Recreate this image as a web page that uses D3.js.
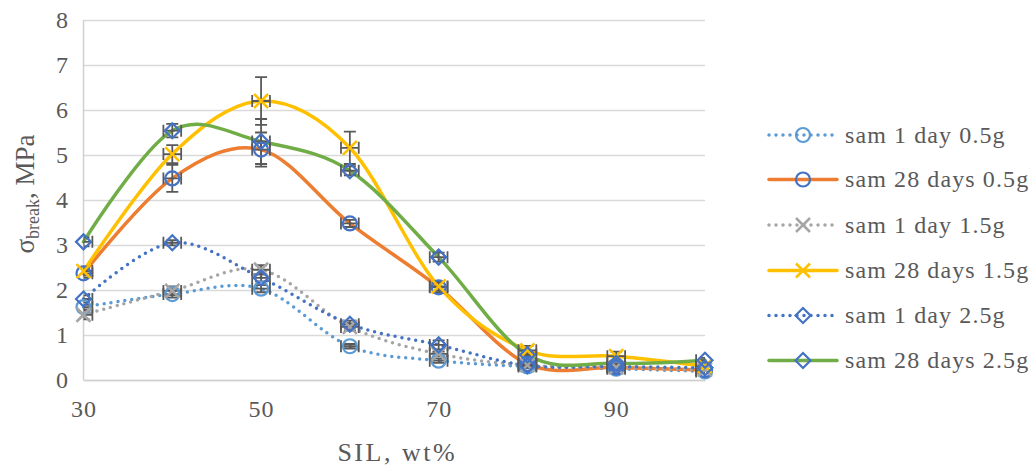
<!DOCTYPE html>
<html>
<head>
<meta charset="utf-8">
<script src="https://cdnjs.cloudflare.com/ajax/libs/d3/7.8.5/d3.min.js"></script>
<style>
  body { margin: 0; background: #fff; }
  text { font-family: "Liberation Serif", "Times New Roman", serif; fill: #595959; }
</style>
</head>
<body>
<div class="chart"></div>
<script>
// tensile strength vs SIL content, six sample series with error bars

var sil = [30, 40, 50, 60, 70, 80, 90, 100];
var xTicks = [30, 50, 70, 90];
var yTicks = [0, 1, 2, 3, 4, 5, 6, 7, 8];

var seriesNames = ["sam 1 day 0.5g", "sam 28 days 0.5g", "sam 1 day 1.5g",
                   "sam 28 days 1.5g", "sam 1 day 2.5g", "sam 28 days 2.5g"];

var day1_05  = [1.62, 1.91, 2.03, 0.75, 0.43, 0.30, 0.25, 0.19];
var day28_05 = [2.37, 4.48, 5.12, 3.48, 2.06, 0.36, 0.28, 0.22];
var day1_15  = [1.45, 1.98, 2.45, 1.18, 0.58, 0.33, 0.28, 0.23];
var day28_15 = [2.42, 5.02, 6.20, 5.16, 2.08, 0.66, 0.53, 0.31];
var day1_25  = [1.80, 3.05, 2.27, 1.24, 0.78, 0.32, 0.30, 0.27];
var day28_25 = [3.07, 5.54, 5.30, 4.65, 2.73, 0.56, 0.37, 0.44];

// y error (+/-) for each series, x error is 1 wt% everywhere
var err1_05  = [0.05, 0.08, 0.08, 0.05, 0.05, 0.03, 0.03, 0.03];
var err28_05 = [0.10, 0.30, 0.38, 0.08, 0.12, 0.05, 0.05, 0.05];
var err1_15  = [0.10, 0.10, 0.10, 0.08, 0.05, 0.03, 0.03, 0.03];
var err28_15 = [0.10, 0.20, 0.53, 0.36, 0.10, 0.10, 0.10, 0.05];
var err1_25  = [0.08, 0.06, 0.08, 0.08, 0.10, 0.05, 0.03, 0.03];
var err28_25 = [0.10, 0.15, 0.50, 0.10, 0.10, 0.05, 0.05, 0.05];
var xErr = 1;

var svgWidth = 1034;
var svgHeight = 472;
var margin = { top: 20, right: 329, bottom: 92, left: 83.5 };
var width = svgWidth - margin.left - margin.right;
var height = svgHeight - margin.top - margin.bottom;

// styles per series (line colour, marker colour, marker shape, dotted or not)
var styles = [
  { line: "#5B9BD5", mark: "#5B9BD5", shape: "circle",  dotted: true },
  { line: "#ED7D31", mark: "#4472C4", shape: "circle",  dotted: false },
  { line: "#A5A5A5", mark: "#A5A5A5", shape: "x",       dotted: true },
  { line: "#FFC000", mark: "#FFC000", shape: "x",       dotted: false },
  { line: "#4472C4", mark: "#4472C4", shape: "diamond", dotted: true },
  { line: "#70AD47", mark: "#4472C4", shape: "diamond", dotted: false }
];

var values = [day1_05, day28_05, day1_15, day28_15, day1_25, day28_25];
var errors = [err1_05, err28_05, err1_15, err28_15, err1_25, err28_25];

var series = seriesNames.map(function(name, i) {
  return {
    name: name,
    style: styles[i],
    points: sil.map(function(x, j) {
      return { x: x, y: values[i][j], e: errors[i][j] };
    })
  };
});

var svg = d3.select(".chart")
  .append("svg")
  .attr("width", svgWidth)
  .attr("height", svgHeight);

var chart = svg.append("g")
  .attr("transform", "translate(" + margin.left + "," + margin.top + ")");

var xScale = d3.scaleLinear().domain([30, 100]).range([0, width]);
var yScale = d3.scaleLinear().domain([0, 8]).range([height, 0]);

// horizontal gridlines
var yAxis = d3.axisLeft(yScale).tickValues(yTicks).tickSize(-width).tickPadding(15);
var yAxisG = chart.append("g").call(yAxis);
yAxisG.select(".domain").remove();
yAxisG.selectAll(".tick line").attr("stroke", "#D9D9D9").attr("stroke-width", 1.5);
yAxisG.selectAll(".tick text").attr("font-size", "24px").attr("letter-spacing", "0.5px").attr("fill", "#595959");

// left and bottom axis lines
chart.append("line")
  .attr("x1", 0).attr("x2", 0).attr("y1", 0).attr("y2", height)
  .attr("stroke", "#D0D0D0").attr("stroke-width", 1.5);

var xAxis = d3.axisBottom(xScale).tickValues(xTicks).tickSize(0).tickPadding(20);
var xAxisG = chart.append("g")
  .attr("transform", "translate(0," + height + ")")
  .call(xAxis);
xAxisG.select(".domain").attr("stroke", "#D0D0D0").attr("stroke-width", 1.5);
xAxisG.selectAll(".tick text").attr("font-size", "24px").attr("letter-spacing", "1px").attr("fill", "#595959");

// smooth lines, like the spreadsheet smoothing
var line = d3.line()
  .x(function(d) { return xScale(d.x); })
  .y(function(d) { return yScale(d.y); })
  .curve(d3.curveCardinal);

series.forEach(function(s) {
  chart.append("path")
    .datum(s.points)
    .attr("fill", "none")
    .attr("stroke", s.style.line)
    .attr("stroke-width", 3.5)
    .attr("stroke-linecap", "round")
    .attr("stroke-dasharray", s.style.dotted ? "0 7" : null)
    .attr("d", line);
});

// error bars, clipped to the plot area
svg.append("defs").append("clipPath").attr("id", "plotClip")
  .append("rect").attr("x", 0).attr("y", -10).attr("width", width).attr("height", height + 10);

var errG = chart.append("g").attr("clip-path", "url(#plotClip)")
  .attr("stroke", "#595959").attr("stroke-width", 1.8).attr("fill", "none");
var cap = 6;

series.forEach(function(s) {
  s.points.forEach(function(d) {
    var cx = xScale(d.x), cy = yScale(d.y);
    var yTop = yScale(d.y + d.e), yBot = yScale(d.y - d.e);
    var xL = xScale(d.x - xErr), xR = xScale(d.x + xErr);
    errG.append("path")
      .attr("d", "M" + cx + "," + yTop + "V" + yBot +
        "M" + (cx - cap) + "," + yTop + "H" + (cx + cap) +
        "M" + (cx - cap) + "," + yBot + "H" + (cx + cap) +
        "M" + xL + "," + cy + "H" + xR +
        "M" + xL + "," + (cy - cap) + "V" + (cy + cap) +
        "M" + xR + "," + (cy - cap) + "V" + (cy + cap));
  });
});

// marker drawing
function drawMarker(g, shape, color, cx, cy) {
  if (shape === "circle") {
    g.append("circle").attr("cx", cx).attr("cy", cy).attr("r", 7)
      .attr("fill", "none").attr("stroke", color).attr("stroke-width", 2.2);
  } else if (shape === "diamond") {
    var r = 7.5;
    g.append("path")
      .attr("d", "M" + cx + "," + (cy - r) + "L" + (cx + r) + "," + cy +
        "L" + cx + "," + (cy + r) + "L" + (cx - r) + "," + cy + "Z")
      .attr("fill", "none").attr("stroke", color).attr("stroke-width", 2.2);
  } else {
    var h = 7;
    g.append("path")
      .attr("d", "M" + (cx - h) + "," + (cy - h) + "L" + (cx + h) + "," + (cy + h) +
        "M" + (cx + h) + "," + (cy - h) + "L" + (cx - h) + "," + (cy + h))
      .attr("fill", "none").attr("stroke", color).attr("stroke-width", 2.5);
  }
}

var markG = chart.append("g");
series.forEach(function(s) {
  s.points.forEach(function(d) {
    drawMarker(markG, s.style.shape, s.style.mark, xScale(d.x), yScale(d.y));
  });
});

// y-axis title with subscript
var yTitle = svg.append("text")
  .attr("transform", "translate(34," + 194 + ") rotate(-90)")
  .attr("text-anchor", "middle")
  .attr("font-size", "27px");
yTitle.append("tspan").text("σ");
yTitle.append("tspan").attr("font-size", "18px").attr("dy", "5").text("break");
yTitle.append("tspan").attr("dy", "-5").text(", MPa");

// x-axis title
svg.append("text")
  .attr("x", margin.left + width / 2 + 3)
  .attr("y", 461)
  .attr("text-anchor", "middle")
  .attr("font-size", "26px")
  .attr("letter-spacing", "2.5px")
  .text("SIL, wt%");

// legend
var legend = svg.append("g");
var legendY = [135, 179.5, 225, 270.5, 315.5, 360.5];

series.forEach(function(s, i) {
  var ly = legendY[i];
  legend.append("line")
    .attr("x1", 769).attr("x2", 837).attr("y1", ly).attr("y2", ly)
    .attr("stroke", s.style.line)
    .attr("stroke-width", 3.5)
    .attr("stroke-linecap", "round")
    .attr("stroke-dasharray", s.style.dotted ? "0 7" : null);
  drawMarker(legend, s.style.shape, s.style.mark, 803, ly);
  legend.append("text")
    .attr("x", 845)
    .attr("y", ly)
    .attr("dy", "0.33em")
    .attr("font-size", "24px")
    .attr("letter-spacing", "1.1px")
    .text(s.name);
});
</script>
</body>
</html>
